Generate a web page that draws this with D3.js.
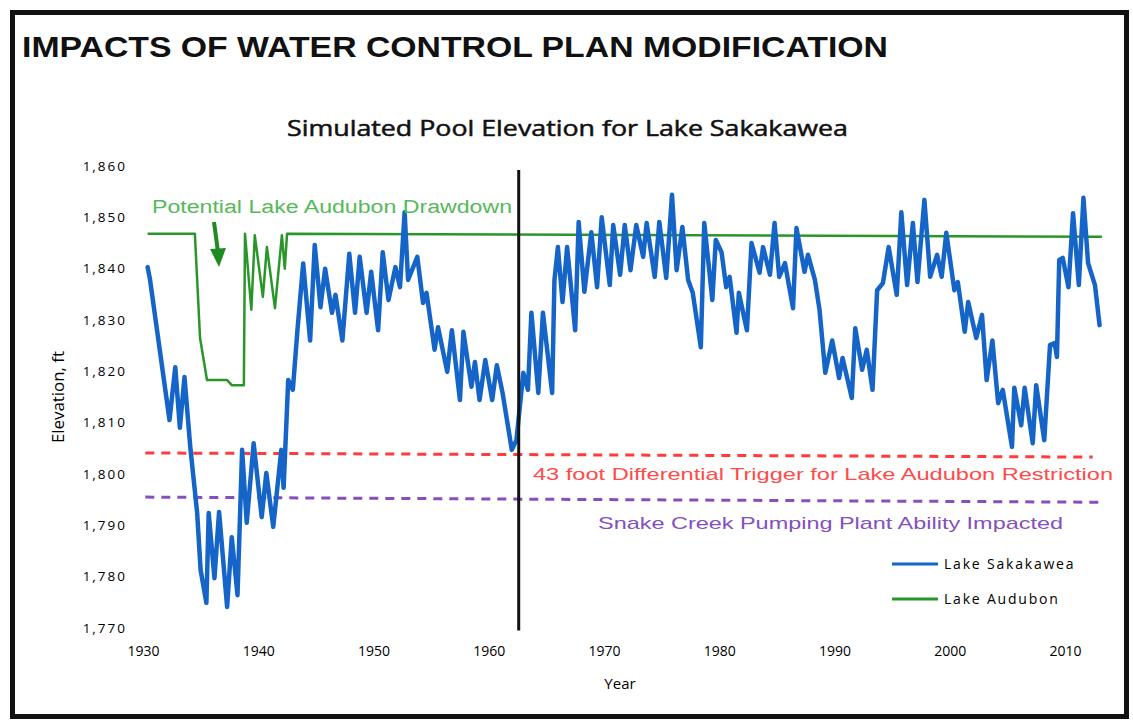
<!DOCTYPE html>
<html>
<head>
<meta charset="utf-8">
<script src="https://cdn.jsdelivr.net/npm/d3@7"></script>
<style>
  html, body { margin: 0; padding: 0; background: #fff; }
  svg { display: block; }
</style>
</head>
<body>
<div id="vis"></div>
<script>
// tick labels
const yearTicks = [1930, 1940, 1950, 1960, 1970, 1980, 1990, 2000, 2010];
const elevTicks = [1770, 1780, 1790, 1800, 1810, 1820, 1830, 1840, 1850, 1860];

// Lake Sakakawea simulated pool (peaks and troughs)
const sakakaweaYear = [
  1930.4, 1930.6, 1932.3, 1932.8, 1933.2, 1933.6, 1934.1, 1934.7, 1935.0, 1935.5,
  1935.7, 1936.2, 1936.6, 1937.3, 1937.7, 1938.2, 1938.6, 1939.0, 1939.6, 1940.3,
  1940.7, 1941.3, 1942.0, 1942.2, 1942.6, 1943.0, 1943.4, 1943.9, 1944.5, 1944.9,
  1945.4, 1945.8, 1946.4, 1946.7, 1947.3, 1947.9, 1948.4, 1948.8, 1949.4, 1949.8,
  1950.4, 1950.8, 1951.3, 1951.9, 1952.3, 1952.7, 1953.0, 1953.8, 1954.3, 1954.6,
  1955.3, 1955.6, 1956.4, 1956.8, 1957.5, 1957.8, 1958.5, 1958.8, 1959.2, 1959.7,
  1960.3, 1960.7, 1961.2, 1962.0, 1962.4, 1963.0, 1963.4, 1963.7, 1964.3, 1964.7,
  1965.5, 1965.7, 1966.0, 1966.4, 1966.8, 1967.5, 1967.8, 1968.3, 1968.9, 1969.4,
  1969.8, 1970.5, 1970.8, 1971.4, 1971.8, 1972.3, 1972.8, 1973.4, 1973.7, 1974.4,
  1974.8, 1975.4, 1975.9, 1976.3, 1976.8, 1977.3, 1977.7, 1978.4, 1978.7, 1979.4,
  1979.7, 1980.2, 1980.6, 1980.9, 1981.5, 1981.7, 1982.4, 1982.8, 1983.5, 1983.8,
  1984.4, 1984.8, 1985.2, 1985.7, 1986.4, 1986.7, 1987.4, 1987.7, 1988.3, 1988.7,
  1989.2, 1989.8, 1990.4, 1990.7, 1991.5, 1991.8, 1992.4, 1992.8, 1993.3, 1993.7,
  1994.2, 1994.7, 1995.4, 1995.8, 1996.3, 1996.8, 1997.2, 1997.8, 1998.3, 1998.9,
  1999.3, 1999.7, 2000.4, 2000.7, 2001.3, 2001.6, 2002.3, 2002.8, 2003.2, 2003.7,
  2004.2, 2004.6, 2005.4, 2005.6, 2006.2, 2006.5, 2007.2, 2007.5, 2008.2, 2008.7,
  2009.1, 2009.3, 2009.5, 2009.8, 2010.3, 2010.7, 2011.2, 2011.6, 2012.0, 2012.6,
  2013.0
];
const sakakaweaElev = [
  1840.3, 1838.0, 1810.5, 1820.8, 1809.0, 1818.9, 1805.3, 1792.4, 1781.3, 1774.9,
  1792.4, 1779.7, 1792.6, 1774.1, 1787.7, 1776.4, 1804.7, 1790.5, 1806.0, 1791.6,
  1800.2, 1789.7, 1804.7, 1797.3, 1818.3, 1816.4, 1828.0, 1841.0, 1826.0, 1844.6,
  1832.5, 1840.0, 1831.4, 1834.9, 1826.0, 1842.9, 1831.4, 1842.3, 1831.4, 1839.4,
  1828.0, 1843.2, 1833.9, 1840.3, 1836.4, 1851.0, 1837.8, 1842.3, 1833.3, 1835.3,
  1824.2, 1828.6, 1819.9, 1828.0, 1814.4, 1827.7, 1817.0, 1821.8, 1814.4, 1822.2,
  1814.4, 1821.2, 1815.8, 1804.7, 1806.6, 1819.7, 1816.4, 1831.4, 1815.8, 1831.4,
  1815.8, 1837.8, 1844.2, 1833.5, 1844.2, 1828.0, 1849.1, 1835.5, 1847.1, 1836.4,
  1850.0, 1836.8, 1848.5, 1838.8, 1848.5, 1839.7, 1848.5, 1842.3, 1848.9, 1838.4,
  1849.1, 1838.2, 1854.4, 1839.7, 1848.1, 1837.8, 1835.3, 1824.7, 1848.9, 1833.9,
  1845.6, 1843.2, 1836.4, 1838.4, 1827.5, 1835.3, 1828.0, 1845.0, 1839.2, 1844.2,
  1838.8, 1848.9, 1838.4, 1841.1, 1832.3, 1847.9, 1839.4, 1842.7, 1837.8, 1832.0,
  1819.7, 1826.0, 1818.7, 1822.6, 1814.8, 1828.4, 1820.3, 1824.2, 1816.4, 1835.8,
  1837.2, 1844.2, 1834.9, 1851.0, 1836.8, 1848.9, 1837.4, 1853.4, 1838.4, 1842.7,
  1838.4, 1847.0, 1835.8, 1837.4, 1827.7, 1833.5, 1826.5, 1831.0, 1818.3, 1826.0,
  1813.8, 1816.4, 1805.3, 1816.8, 1809.5, 1816.8, 1806.0, 1817.3, 1806.6, 1825.1,
  1825.5, 1822.8, 1841.7, 1842.1, 1836.4, 1850.8, 1836.8, 1853.8, 1841.1, 1836.8,
  1829.0
];

// Lake Audubon
const audubonYear = [
  1930.4, 1934.5, 1934.95, 1935.55, 1937.3, 1937.7, 1938.75, 1938.85, 1939.4, 1939.7,
  1940.4, 1940.75, 1941.45, 1942.05, 1942.3, 1942.5, 2013.2
];
const audubonElev = [
  1846.8, 1846.8, 1826.5, 1818.3, 1818.3, 1817.3, 1817.3, 1846.8, 1832.0, 1846.5,
  1834.5, 1844.2, 1832.3, 1846.5, 1840.0, 1846.8, 1846.2
];

// threshold lines
const triggerYear = [1930.2, 2012.4];
const triggerElev = [1804.1, 1803.3];
const pumpingYear = [1930.2, 2013.0];
const pumpingElev = [1795.5, 1794.5];

// year the plan changed (black vertical line)
const planChangeYear = 1962.6;

const seriesNames = ['Lake Sakakawea', 'Lake Audubon'];
const seriesColors = ['#1565c8', '#2a962a'];

const width = 1133;
const height = 721;

var svg = d3.select('#vis').append('svg')
  .attr('width', width)
  .attr('height', height);

var x = d3.scaleLinear().domain([1930, 2010]).range([143, 1065]);
var y = d3.scaleLinear().domain([1770, 1860]).range([628, 166]);

// frame round the slide
svg.append('rect')
  .attr('x', 12.5).attr('y', 12.5)
  .attr('width', 1114).attr('height', 704)
  .attr('fill', 'none')
  .attr('stroke', '#111')
  .attr('stroke-width', 5);

// titles
svg.append('text')
  .attr('x', 22).attr('y', 57)
  .attr('font-family', 'Liberation Sans, Arial, sans-serif')
  .attr('font-weight', 'bold')
  .attr('font-size', 30)
  .attr('textLength', 866)
  .attr('lengthAdjust', 'spacingAndGlyphs')
  .attr('fill', '#111')
  .text('IMPACTS OF WATER CONTROL PLAN MODIFICATION');

svg.append('text')
  .attr('x', 287).attr('y', 136)
  .attr('font-family', 'Open Sans, sans-serif')
  .attr('font-size', 21)
  .attr('textLength', 561)
  .attr('lengthAdjust', 'spacingAndGlyphs')
  .attr('fill', '#111')
  .attr('stroke', '#111')
  .attr('stroke-width', 0.5)
  .text('Simulated Pool Elevation for Lake Sakakawea');

// axes, only labels are visible
var yAxis = d3.axisLeft(y)
  .tickValues(elevTicks)
  .tickSize(0)
  .tickPadding(0)
  .tickFormat(d3.format(','));

var gy = svg.append('g')
  .attr('transform', 'translate(127,0)')
  .call(yAxis);
gy.select('.domain').remove();
gy.selectAll('text')
  .attr('font-family', 'Open Sans, sans-serif')
  .attr('font-size', 13.5)
  .attr('letter-spacing', 2)
  .attr('fill', '#000');

var xAxis = d3.axisBottom(x)
  .tickValues(yearTicks)
  .tickSize(0)
  .tickPadding(0)
  .tickFormat(d3.format('d'));

var gx = svg.append('g')
  .attr('transform', 'translate(0,646)')
  .call(xAxis);
gx.select('.domain').remove();
gx.selectAll('text')
  .attr('font-family', 'Open Sans, sans-serif')
  .attr('font-size', 14)
  .attr('fill', '#000');

svg.append('text')
  .attr('x', 620).attr('y', 689)
  .attr('text-anchor', 'middle')
  .attr('font-family', 'Open Sans, sans-serif')
  .attr('font-size', 15)
  .attr('fill', '#000')
  .text('Year');

svg.append('text')
  .attr('transform', 'translate(64,397) rotate(-90)')
  .attr('text-anchor', 'middle')
  .attr('font-family', 'Open Sans, sans-serif')
  .attr('font-size', 16)
  .attr('textLength', 92)
  .attr('lengthAdjust', 'spacingAndGlyphs')
  .attr('fill', '#000')
  .text('Elevation, ft');

// helper for the zip of two arrays
function pairs(xs, ys) {
  return xs.map(function (d, i) { return [d, ys[i]]; });
}

var line = d3.line()
  .x(function (d) { return x(d[0]); })
  .y(function (d) { return y(d[1]); });

// threshold lines
svg.append('path')
  .datum(pairs(triggerYear, triggerElev))
  .attr('d', line)
  .attr('fill', 'none')
  .attr('stroke', '#ff3b3b')
  .attr('stroke-width', 3)
  .attr('stroke-dasharray', '9,7');

svg.append('path')
  .datum(pairs(pumpingYear, pumpingElev))
  .attr('d', line)
  .attr('fill', 'none')
  .attr('stroke', '#8450bd')
  .attr('stroke-width', 3)
  .attr('stroke-dasharray', '9,7');

// Lake Audubon
svg.append('path')
  .datum(pairs(audubonYear, audubonElev))
  .attr('d', line)
  .attr('fill', 'none')
  .attr('stroke', seriesColors[1])
  .attr('stroke-width', 2.5)
  .attr('stroke-linejoin', 'round');

// Lake Sakakawea
svg.append('path')
  .datum(pairs(sakakaweaYear, sakakaweaElev))
  .attr('d', line)
  .attr('fill', 'none')
  .attr('stroke', seriesColors[0])
  .attr('stroke-width', 4.5)
  .attr('stroke-linejoin', 'round')
  .attr('stroke-linecap', 'round');

// plan change marker
svg.append('line')
  .attr('x1', x(planChangeYear)).attr('x2', x(planChangeYear))
  .attr('y1', y(1859.2)).attr('y2', y(1769.5))
  .attr('stroke', '#111')
  .attr('stroke-width', 3);

// annotations
svg.append('text')
  .attr('x', 152).attr('y', 213)
  .attr('font-family', 'Liberation Sans, Arial, sans-serif')
  .attr('font-size', 18)
  .attr('textLength', 360)
  .attr('lengthAdjust', 'spacingAndGlyphs')
  .attr('fill', '#55b95a')
  .text('Potential Lake Audubon Drawdown');

// little arrow under the label
svg.append('line')
  .attr('x1', 214).attr('y1', 222)
  .attr('x2', 218).attr('y2', 252)
  .attr('stroke', '#1f8a22')
  .attr('stroke-width', 4);
svg.append('path')
  .attr('d', 'M210,249 L226,248 L219,267 Z')
  .attr('fill', '#1f8a22');

svg.append('text')
  .attr('x', 533).attr('y', 480)
  .attr('font-family', 'Liberation Sans, Arial, sans-serif')
  .attr('font-size', 17)
  .attr('textLength', 580)
  .attr('lengthAdjust', 'spacingAndGlyphs')
  .attr('fill', '#ff4a4a')
  .text('43 foot Differential Trigger for Lake Audubon Restriction');

svg.append('text')
  .attr('x', 598).attr('y', 529)
  .attr('font-family', 'Liberation Sans, Arial, sans-serif')
  .attr('font-size', 17)
  .attr('textLength', 465)
  .attr('lengthAdjust', 'spacingAndGlyphs')
  .attr('fill', '#8450bd')
  .text('Snake Creek Pumping Plant Ability Impacted');

// legend
var legend = svg.append('g')
  .selectAll('g')
  .data(seriesNames)
  .enter().append('g')
  .attr('transform', function (d, i) { return 'translate(892,' + (564 + i * 35) + ')'; });

legend.append('line')
  .attr('x1', 0).attr('x2', 46)
  .attr('stroke', function (d, i) { return seriesColors[i]; })
  .attr('stroke-width', 3);

legend.append('text')
  .attr('x', 52).attr('y', 5)
  .attr('font-family', 'Open Sans, sans-serif')
  .attr('font-size', 14)
  .attr('letter-spacing', 1.8)
  .attr('fill', '#000')
  .text(function (d) { return d; });
</script>
</body>
</html>
